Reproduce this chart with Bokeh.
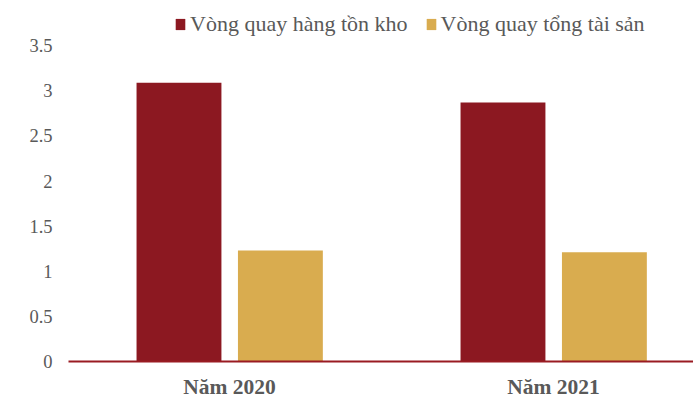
from bokeh.plotting import figure
from bokeh.models import ColumnDataSource, Range1d, FixedTicker, Legend, LegendItem
from bokeh.transform import dodge
from bokeh.embed import file_html
from bokeh.resources import INLINE

categories = ["Năm 2020", "Năm 2021"]
series_names = ["Vòng quay hàng tồn kho", "Vòng quay tổng tài sản"]
inventory_turnover = [3.09, 2.87]
asset_turnover = [1.23, 1.21]
y_ticks = [0, 0.5, 1, 1.5, 2, 2.5, 3, 3.5]
y_tick_labels = ["0", "0.5", "1", "1.5", "2", "2.5", "3", "3.5"]

RED = "#8C1821"
GOLD = "#D9AC4F"
TXT = "#595959"
FONT = "Liberation Serif"

xs = list(range(len(categories)))
src = ColumnDataSource(dict(x=xs, inv=inventory_turnover, ast=asset_turnover))

p = figure(frame_width=625, frame_height=351, output_backend="svg", toolbar_location=None,
           x_range=Range1d(-0.497, -0.497 + 625 / 324), y_range=Range1d(0, 3.891),
           min_border_left=68, min_border_right=0, min_border_top=10, min_border_bottom=38)
p.outline_line_color = None
p.background_fill_color = "white"
p.xgrid.visible = False
p.ygrid.visible = False

r1 = p.vbar(x=dodge("x", -0.156), top="inv", width=0.262, source=src,
            fill_color=RED, line_color=None)
r2 = p.vbar(x=dodge("x", 0.157), top="ast", width=0.262, source=src,
            fill_color=GOLD, line_color=None)

# y axis
p.yaxis.ticker = FixedTicker(ticks=y_ticks)
p.yaxis.major_label_overrides = {t: l for t, l in zip(y_ticks, y_tick_labels)}
p.yaxis.axis_line_color = None
p.yaxis.major_tick_line_color = None
p.yaxis.minor_tick_line_color = None
p.yaxis.major_label_standoff = 10
p.yaxis.major_label_text_font = FONT
p.yaxis.major_label_text_font_size = "18.5px"
p.yaxis.major_label_text_color = TXT

# x axis
p.xaxis.ticker = FixedTicker(ticks=xs)
p.xaxis.major_label_overrides = {i: c for i, c in zip(xs, categories)}
p.xaxis.axis_line_color = "#9A1B22"
p.xaxis.axis_line_width = 2
p.xaxis.major_tick_line_color = None
p.xaxis.minor_tick_line_color = None
p.xaxis.major_label_standoff = 7
p.xaxis.major_label_text_font = FONT
p.xaxis.major_label_text_font_style = "bold"
p.xaxis.major_label_text_font_size = "21.5px"
p.xaxis.major_label_text_color = TXT

legend = Legend(items=[LegendItem(label=series_names[0], renderers=[r1]),
                       LegendItem(label=series_names[1], renderers=[r2])],
                orientation="horizontal", location=(106, 324),
                padding=0, margin=0, spacing=17, label_standoff=4,
                glyph_width=12, glyph_height=14,
                border_line_color=None, background_fill_alpha=0,
                label_text_font=FONT, label_text_font_size="22px",
                label_text_color=TXT)
p.add_layout(legend, "center")

open("out.html", "w").write(file_html(p, INLINE))
